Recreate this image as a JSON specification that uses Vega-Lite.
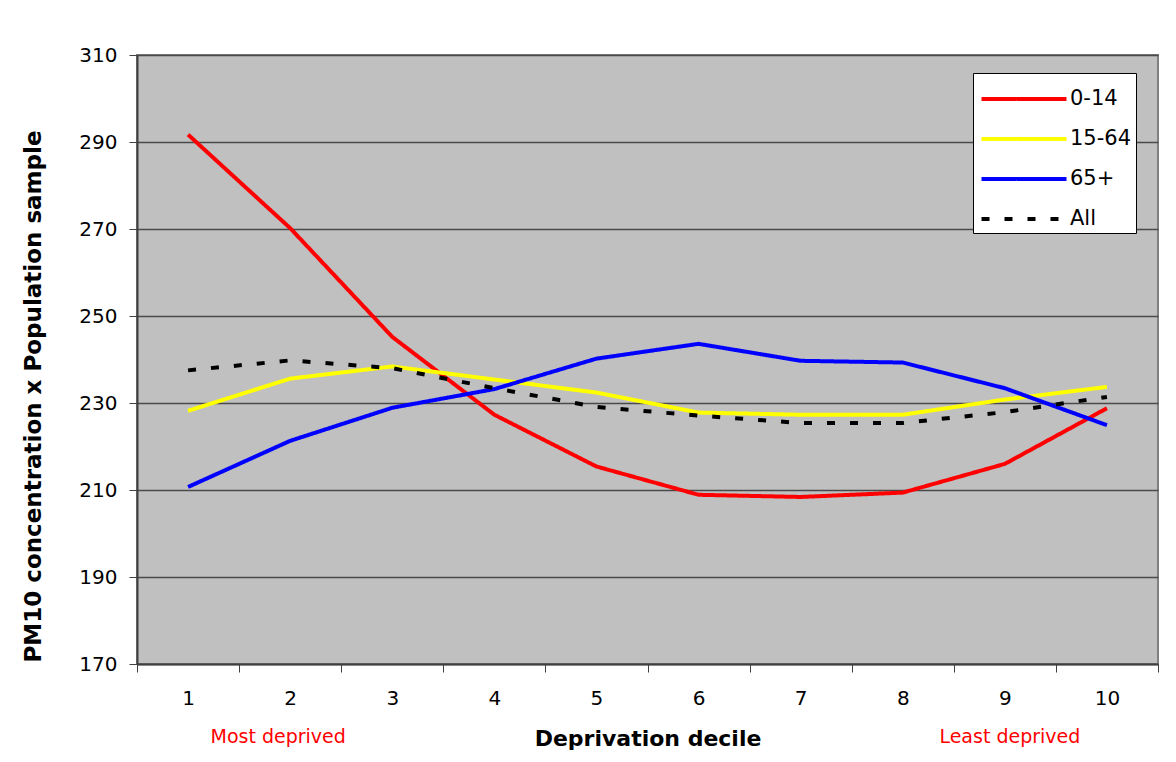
{
  "$schema": "https://vega.github.io/schema/vega-lite/v6.json",
  "autosize": "none",
  "width": 1021,
  "height": 609,
  "padding": {"left": 137, "top": 55, "right": 18, "bottom": 98},
  "background": "white",
  "config": {
    "font": "DejaVu Sans",
    "view": {"fill": "#C0C0C0", "stroke": "#808080", "strokeWidth": 2}
  },
  "datasets": {
    "series": [
      {"decile": 1, "group": "0-14", "value": 291.7},
      {"decile": 2, "group": "0-14", "value": 270.2},
      {"decile": 3, "group": "0-14", "value": 245.2},
      {"decile": 4, "group": "0-14", "value": 227.3},
      {"decile": 5, "group": "0-14", "value": 215.4},
      {"decile": 6, "group": "0-14", "value": 208.9},
      {"decile": 7, "group": "0-14", "value": 208.4},
      {"decile": 8, "group": "0-14", "value": 209.4},
      {"decile": 9, "group": "0-14", "value": 216.0},
      {"decile": 10, "group": "0-14", "value": 228.8},
      {"decile": 1, "group": "15-64", "value": 228.2},
      {"decile": 2, "group": "15-64", "value": 235.6},
      {"decile": 3, "group": "15-64", "value": 238.4},
      {"decile": 4, "group": "15-64", "value": 235.4},
      {"decile": 5, "group": "15-64", "value": 232.4},
      {"decile": 6, "group": "15-64", "value": 227.8},
      {"decile": 7, "group": "15-64", "value": 227.3},
      {"decile": 8, "group": "15-64", "value": 227.3},
      {"decile": 9, "group": "15-64", "value": 230.8},
      {"decile": 10, "group": "15-64", "value": 233.7},
      {"decile": 1, "group": "65+", "value": 210.7},
      {"decile": 2, "group": "65+", "value": 221.3},
      {"decile": 3, "group": "65+", "value": 228.9},
      {"decile": 4, "group": "65+", "value": 233.2},
      {"decile": 5, "group": "65+", "value": 240.2},
      {"decile": 6, "group": "65+", "value": 243.6},
      {"decile": 7, "group": "65+", "value": 239.7},
      {"decile": 8, "group": "65+", "value": 239.3},
      {"decile": 9, "group": "65+", "value": 233.4},
      {"decile": 10, "group": "65+", "value": 224.9},
      {"decile": 1, "group": "All", "value": 237.5},
      {"decile": 2, "group": "All", "value": 239.8},
      {"decile": 3, "group": "All", "value": 238.0},
      {"decile": 4, "group": "All", "value": 233.4},
      {"decile": 5, "group": "All", "value": 229.1},
      {"decile": 6, "group": "All", "value": 227.1},
      {"decile": 7, "group": "All", "value": 225.4},
      {"decile": 8, "group": "All", "value": 225.4},
      {"decile": 9, "group": "All", "value": 227.9},
      {"decile": 10, "group": "All", "value": 231.4}
    ]
  },
  "layer": [
    {
      "data": {"name": "series"},
      "mark": {"type": "line", "strokeCap": "butt"},
      "encoding": {
        "x": {
          "field": "decile",
          "type": "ordinal",
          "bandPosition": 0.5,
          "scale": {"type": "band", "paddingInner": 0, "paddingOuter": 0},
          "axis": {
            "title": "Deprivation decile",
            "titleFontSize": 22,
            "titleFontWeight": "bold",
            "titleColor": "black",
            "titlePadding": 20,
            "labelAngle": 0,
            "labelFontSize": 20,
            "labelColor": "black",
            "labelPadding": 16,
            "tickBand": "extent",
            "tickSize": 8,
            "tickColor": "#404040",
            "domainColor": "#404040",
            "domainWidth": 2,
            "grid": false
          }
        },
        "y": {
          "field": "value",
          "type": "quantitative",
          "scale": {"domain": [170, 310], "nice": false, "zero": false},
          "axis": {
            "title": "PM10 concentration x Population sample",
            "titleFontSize": 23,
            "titleFontWeight": "bold",
            "titleColor": "black",
            "titleX": -104,
            "titleY": 341,
            "titleAlign": "center",
            "titleBaseline": "middle",
            "values": [170, 190, 210, 230, 250, 270, 290, 310],
            "labelFontSize": 20,
            "labelColor": "black",
            "labelPadding": 12,
            "tickSize": 8,
            "tickColor": "#404040",
            "domainColor": "#404040",
            "domainWidth": 2,
            "grid": true,
            "gridColor": "#4a4a4a",
            "gridWidth": 1.5,
            "gridOpacity": 1
          }
        },
        "color": {
          "field": "group",
          "type": "nominal",
          "scale": {"domain": ["0-14", "15-64", "65+", "All"], "range": ["#FF0000", "#FFFF00", "#0000FF", "#000000"]},
          "legend": {
            "title": null,
            "orient": "none",
            "legendX": 836,
            "legendY": 18,
            "fillColor": "white",
            "strokeColor": "black",
            "padding": 4,
            "labelFontSize": 21,
            "labelColor": "black",
            "symbolType": "M-2.125,0H2.125",
            "symbolStrokeWidth": 4,
            "symbolSize": 1600,
            "symbolOffset": 25,
            "labelOffset": 24,
            "rowPadding": 8
          }
        },
        "strokeDash": {
          "field": "group",
          "type": "nominal",
          "scale": {"domain": ["0-14", "15-64", "65+", "All"], "range": [[1, 0], [1, 0], [1, 0], [8, 15]]},
          "legend": null
        },
        "strokeWidth": {
          "field": "group",
          "type": "nominal",
          "scale": {"domain": ["0-14", "15-64", "65+", "All"], "range": [4, 4, 4, 5]},
          "legend": null
        }
      }
    },
    {
      "data": {"values": [{"decile": 2, "note": "Most deprived"}]},
      "mark": {"type": "text", "color": "#FF0000", "fontSize": 19, "baseline": "middle", "align": "center", "dx": -12},
      "encoding": {
        "x": {"field": "decile", "type": "ordinal", "bandPosition": 0.5},
        "y": {"datum": 153.3},
        "text": {"field": "note"}
      }
    },
    {
      "data": {"values": [{"decile": 9, "note": "Least deprived"}]},
      "mark": {"type": "text", "color": "#FF0000", "fontSize": 19, "baseline": "middle", "align": "center", "dx": 5},
      "encoding": {
        "x": {"field": "decile", "type": "ordinal", "bandPosition": 0.5},
        "y": {"datum": 153.3},
        "text": {"field": "note"}
      }
    }
  ]
}
